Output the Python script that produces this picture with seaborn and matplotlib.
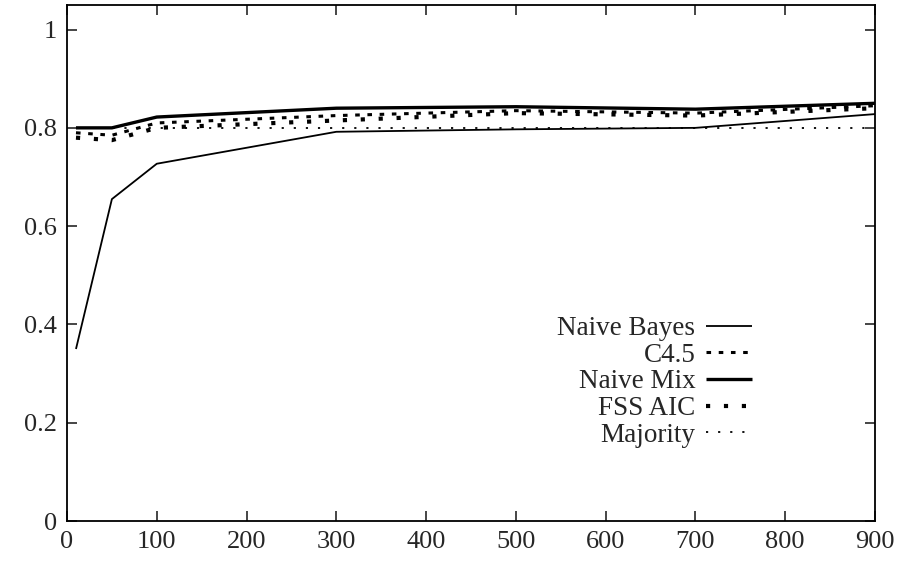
import pandas as pd
import numpy as np
import matplotlib
matplotlib.use('Agg')
import matplotlib.pyplot as plt
import seaborn as sns

# Data
sizes = [10, 50, 100, 300, 500, 700, 900]
naive_bayes = [0.35, 0.655, 0.727, 0.792, 0.797, 0.800, 0.828]
c45 = [0.790, 0.785, 0.810, 0.825, 0.835, 0.830, 0.845]
naive_mix = [0.800, 0.800, 0.822, 0.840, 0.843, 0.838, 0.850]
fss_aic = [0.780, 0.775, 0.800, 0.815, 0.830, 0.825, 0.840]
majority = [0.800, 0.800, 0.800, 0.800, 0.800, 0.800, 0.800]

series_names = ['Naive Bayes', 'C4.5', 'Naive Mix', 'FSS AIC', 'Majority']
series_vals = [naive_bayes, c45, naive_mix, fss_aic, majority]

df = pd.DataFrame({
    'size': sizes * len(series_names),
    'acc': sum(series_vals, []),
    'method': [n for n in series_names for _ in sizes],
})

sns.set_style('white')
plt.rcParams['font.family'] = ['Liberation Serif', 'DejaVu Serif']

fig = plt.figure(figsize=(9.03, 5.73), dpi=100)
ax = fig.add_axes([67 / 903, 1 - 521 / 573, 808 / 903, 516 / 573])

styles = {
    'Naive Bayes': dict(lw=1.3, ls='-'),
    'C4.5': dict(lw=2.2, ls=(0, (1.5, 2.5))),
    'Naive Mix': dict(lw=2.4, ls='-'),
    'FSS AIC': dict(lw=3.0, ls=(0, (1.0, 3.3))),
    'Majority': dict(lw=1.3, ls=(0, (1.2, 5.5))),
}

for name in series_names:
    sub = df[df['method'] == name]
    sns.lineplot(data=sub, x='size', y='acc', ax=ax, color='black', label=name,
                 solid_capstyle='butt', dash_capstyle='butt', **styles[name])

ax.set_xlim(0, 900)
ax.set_ylim(0, 1.05)
ax.set_xticks(range(0, 901, 100))
ax.set_yticks([0, 0.2, 0.4, 0.6, 0.8, 1])
ax.set_yticklabels(['0', '0.2', '0.4', '0.6', '0.8', '1'])
ax.set_xlabel('')
ax.set_ylabel('')
ax.tick_params(direction='in', length=7, width=1.2, labelsize=19, pad=7,
               top=True, right=True, bottom=True, left=True)
for s in ax.spines.values():
    s.set_color('black')
    s.set_linewidth(1.3)

# legend: labels right-aligned, line sample after the text (gnuplot style)
ax.legend(loc='upper right', bbox_to_anchor=(0.848, 0.397), frameon=False,
          markerfirst=False, fontsize=19.5, handlelength=1.7,
          labelspacing=0.06, handletextpad=0.4, borderpad=0, borderaxespad=0)

fig.savefig('out.png', dpi=100)
